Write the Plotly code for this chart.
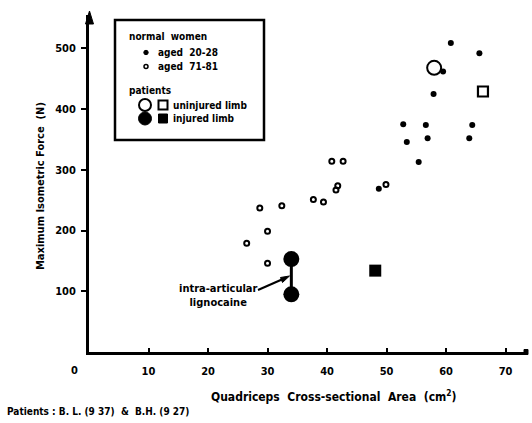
import plotly.graph_objects as go

# Normal women, aged 20-28: quadriceps cross-sectional area (cm^2) vs maximum isometric force (N)
young_area = [60.8, 65.6, 59.5, 57.9, 52.8, 56.6, 64.4, 53.4, 56.9, 63.9, 55.4, 48.7]
young_force = [509, 492, 462, 425, 375, 374, 374, 346, 352, 352, 313, 269]

# Normal women, aged 71-81
old_area = [40.8, 42.7, 41.5, 41.8, 49.9, 37.7, 39.4, 28.7, 32.4, 30.0, 26.5, 30.0]
old_force = [314, 314, 267, 274, 276, 251, 247, 237, 241, 199, 179, 146]

# Patients B.L. (circles) and B.H. (squares)
bl_uninjured_area = [58.0]
bl_uninjured_force = [468]
bh_uninjured_area = [66.2]
bh_uninjured_force = [429]
bl_injured_area = [34.0, 34.0]          # before / after intra-articular lignocaine
bl_injured_force = [153, 95]
bh_injured_area = [48.1]
bh_injured_force = [134]

x_ticks = [10, 20, 30, 40, 50, 60, 70]
y_ticks = [100, 200, 300, 400, 500]

FONT = "DejaVu Sans Condensed, Liberation Sans Narrow, Arial Narrow, sans-serif"
BLACK = "#000000"

W, H = 532, 423
L, R, T, B = 89, 5, 15, 71
PW, PH = W - L - R, H - T - B


def px(x):
    return (x - L) / PW


def py(y):
    return (H - B - y) / PH


def path(points, close=True):
    s = "M " + " L ".join(f"{px(x):.5f},{py(y):.5f}" for x, y in points)
    return s + (" Z" if close else "")


fig = go.Figure()

# lignocaine effect: line joining the two injured-limb values of B.L.
fig.add_trace(go.Scatter(x=bl_injured_area, y=bl_injured_force, mode="lines",
                         line=dict(color=BLACK, width=3), hoverinfo="skip"))

fig.add_trace(go.Scatter(x=young_area, y=young_force, mode="markers",
                         marker=dict(symbol="circle", size=6, color=BLACK)))
fig.add_trace(go.Scatter(x=old_area, y=old_force, mode="markers",
                         marker=dict(symbol="circle-open", size=5, color=BLACK,
                                     line=dict(width=2, color=BLACK))))
fig.add_trace(go.Scatter(x=bl_uninjured_area, y=bl_uninjured_force, mode="markers",
                         marker=dict(symbol="circle-open", size=14, color=BLACK,
                                     line=dict(width=2, color=BLACK))))
fig.add_trace(go.Scatter(x=bh_uninjured_area, y=bh_uninjured_force, mode="markers",
                         marker=dict(symbol="square-open", size=10, color=BLACK,
                                     line=dict(width=2.2, color=BLACK))))
fig.add_trace(go.Scatter(x=bl_injured_area, y=bl_injured_force, mode="markers",
                         marker=dict(symbol="circle", size=16, color=BLACK)))
fig.add_trace(go.Scatter(x=bh_injured_area, y=bh_injured_force, mode="markers",
                         marker=dict(symbol="square", size=12, color=BLACK)))

annotations = []
shapes = []

# pointer to the lignocaine line: shaft plus a narrow wedge head
shapes.append(dict(type="path", xref="paper", yref="paper",
                   path=path([(258, 290), (283, 279)], close=False),
                   line=dict(color=BLACK, width=2)))
shapes.append(dict(type="path", xref="paper", yref="paper",
                   path=path([(289.5, 276), (280.5, 277.5), (282.5, 282.5)]),
                   line=dict(color=BLACK, width=1), fillcolor=BLACK))
annotations.append(dict(x=21.6, y=93, xref="x", yref="y",
                        text="intra-articular<br>lignocaine", showarrow=False,
                        font=dict(family=FONT, size=11, color=BLACK, weight="bold"),
                        align="center"))

# arrow head at the top of the force axis
shapes.append(dict(type="path", xref="paper", yref="paper",
                   path=path([(89.5, 11), (85.5, 24), (93.5, 24)]),
                   line=dict(color=BLACK, width=1), fillcolor=BLACK))

# origin label
annotations.append(dict(x=px(74), y=py(370), xref="paper", yref="paper", text="0",
                        xanchor="center", yanchor="middle", showarrow=False,
                        font=dict(family=FONT, size=11, color=BLACK, weight="bold")))

# axis titles and footnote
annotations.append(dict(x=px(40), y=py(186), xref="paper", yref="paper",
                        xanchor="center", yanchor="middle",
                        text="Maximum Isometric Force  (N)", textangle=-90, showarrow=False,
                        font=dict(family=FONT, size=11, color=BLACK, weight="bold")))
annotations.append(dict(x=px(334), y=py(396), xref="paper", yref="paper",
                        xanchor="center", yanchor="middle",
                        text="Quadriceps  Cross-sectional  Area  (cm<sup>2</sup>)",
                        showarrow=False,
                        font=dict(family=FONT, size=12, color=BLACK, weight="bold")))
annotations.append(dict(x=px(5), y=py(411), xref="paper", yref="paper", xanchor="left",
                        yanchor="middle",
                        text="Patients : B. L. (9 37)  &  B.H. (9 27)", showarrow=False,
                        font=dict(family=FONT, size=10, color=BLACK, weight="bold")))

# key box
shapes.append(dict(type="rect", xref="paper", yref="paper",
                   x0=px(115), x1=px(264), y0=py(140), y1=py(20),
                   line=dict(color=BLACK, width=2.5), fillcolor="white"))


def key_text(x, y, s, size=10):
    annotations.append(dict(x=px(x), y=py(y), xref="paper", yref="paper", xanchor="left",
                            yanchor="middle", text=s, showarrow=False,
                            font=dict(family=FONT, size=size, color=BLACK, weight="bold")))


def key_glyph(kind, x, y, r, filled, lw=2):
    shapes.append(dict(type=kind, xref="paper", yref="paper",
                       xsizemode="pixel", ysizemode="pixel",
                       xanchor=px(x), yanchor=py(y),
                       x0=-r, x1=r, y0=-r, y1=r,
                       line=dict(color=BLACK, width=lw),
                       fillcolor=BLACK if filled else "white"))


key_text(127, 36, "normal  women")
key_glyph("circle", 146, 52.5, 2.2, True, 1)
key_text(156, 52.5, "aged  20-28")
key_glyph("circle", 146, 66.5, 2, False, 1.5)
key_text(156, 66.5, "aged  71-81")
key_text(127, 90, "patients")
key_glyph("circle", 145, 105, 6, False, 2)
key_glyph("rect", 163, 105, 4.5, False, 2)
key_text(171, 105, "uninjured limb")
key_glyph("circle", 145, 118.5, 6.5, True, 1)
key_glyph("rect", 163, 118.5, 4.5, True, 1)
key_text(171, 118.5, "injured limb")

# square end of the area axis
shapes.append(dict(type="rect", xref="paper", yref="paper",
                   xsizemode="pixel", ysizemode="pixel",
                   xanchor=1, yanchor=0, x0=-3, x1=1, y0=-2.5, y1=2.5,
                   line=dict(color=BLACK, width=1), fillcolor=BLACK))

fig.update_layout(
    width=W, height=H,
    margin=dict(l=L, r=R, t=T, b=B, pad=0),
    paper_bgcolor="white", plot_bgcolor="white",
    showlegend=False,
    font=dict(family=FONT, color=BLACK),
    annotations=annotations,
    shapes=shapes,
    xaxis=dict(range=[0, 73.6], tickvals=x_ticks, ticktext=[str(v) for v in x_ticks],
               showgrid=False, zeroline=False, showline=True, linewidth=3, linecolor=BLACK,
               ticks="inside", ticklen=4, tickwidth=2, tickcolor=BLACK,
               ticklabelstandoff=7,
               tickfont=dict(family=FONT, size=11, color=BLACK, weight="bold")),
    yaxis=dict(range=[0, 555], tickvals=y_ticks, ticktext=[str(v) for v in y_ticks],
               showgrid=False, zeroline=False, showline=True, linewidth=3, linecolor=BLACK,
               ticks="outside", ticklen=5, tickwidth=2, tickcolor=BLACK,
               ticklabelstandoff=3,
               tickfont=dict(family=FONT, size=11, color=BLACK, weight="bold")),
)

fig.write_html("out.html")
